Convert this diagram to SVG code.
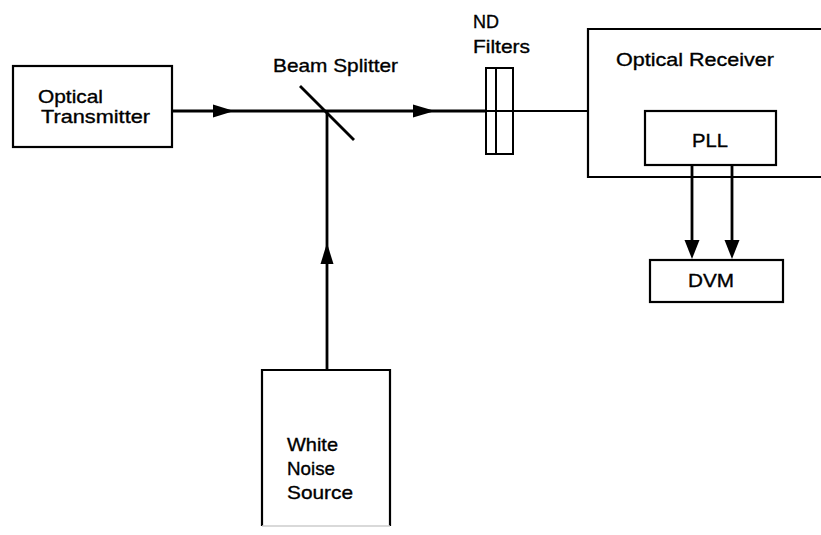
<svg xmlns="http://www.w3.org/2000/svg" width="821" height="535" viewBox="0 0 821 535">
<style>
.box{fill:none;stroke:#000;stroke-width:2.2}
.beam{fill:none;stroke:#000;stroke-width:2.8}
.thin{fill:none;stroke:#000;stroke-width:2}
.lbl{font-family:"Liberation Sans",Arial,sans-serif;font-size:19px;fill:#000;stroke:#000;stroke-width:0.35}
.ah{fill:#000;stroke:none}
</style>
<rect width="821" height="535" fill="#fff"/>
<g id="connectors">
<line class="beam" x1="172" y1="111" x2="486" y2="111"/>
<line class="thin" x1="486" y1="111" x2="588" y2="111"/>
<polygon class="ah" points="213,104.5 234,111 213,117.5"/>
<polygon class="ah" points="413,104.5 435,111 413,117.5"/>
<line class="beam" x1="327" y1="111" x2="327" y2="370"/>
<polygon class="ah" points="320.5,264 327,243 333.5,264"/>
<line class="beam" x1="692" y1="165" x2="692" y2="245"/>
<line class="beam" x1="732" y1="165" x2="732" y2="245"/>
<polygon class="ah" points="684.5,240 692,259 699.5,240"/>
<polygon class="ah" points="724.5,240 732,259 739.5,240"/>
</g>
<g id="transmitter">
<rect class="box" x="13" y="66" width="159" height="81"/>
<text class="lbl" x="38" y="103" textLength="65" lengthAdjust="spacingAndGlyphs">Optical</text>
<text class="lbl" x="41" y="123" textLength="109" lengthAdjust="spacingAndGlyphs">Transmitter</text>
</g>
<g id="beam-splitter">
<line class="beam" x1="300" y1="86" x2="354" y2="140"/>
<text class="lbl" x="273" y="72" textLength="125" lengthAdjust="spacingAndGlyphs">Beam Splitter</text>
</g>
<g id="nd-filters">
<rect class="thin" x="486" y="68" width="10" height="86"/>
<rect class="thin" x="496" y="68" width="17" height="86"/>
<text class="lbl" x="473" y="28" textLength="26" lengthAdjust="spacingAndGlyphs">ND</text>
<text class="lbl" x="473" y="53" textLength="57" lengthAdjust="spacingAndGlyphs">Filters</text>
</g>
<g id="receiver">
<path class="box" d="M830 29 H588 V177 H830"/>
<text class="lbl" x="616" y="66" textLength="158" lengthAdjust="spacingAndGlyphs">Optical Receiver</text>
</g>
<g id="pll">
<rect class="box" x="645" y="111" width="131" height="54"/>
<text class="lbl" x="692" y="147" textLength="36" lengthAdjust="spacingAndGlyphs">PLL</text>
</g>
<g id="dvm">
<rect class="box" x="650" y="260" width="133" height="42"/>
<text class="lbl" x="688" y="287" textLength="46" lengthAdjust="spacingAndGlyphs">DVM</text>
</g>
<g id="white-noise">
<path class="box" d="M262 526 V370 H390 V526"/>
<line x1="262" y1="526" x2="390" y2="526" stroke="#ccc" stroke-width="1.5"/>
<text class="lbl" x="287" y="451" textLength="51" lengthAdjust="spacingAndGlyphs">White</text>
<text class="lbl" x="287" y="475" textLength="48" lengthAdjust="spacingAndGlyphs">Noise</text>
<text class="lbl" x="287" y="499" textLength="66" lengthAdjust="spacingAndGlyphs">Source</text>
</g>
</svg>
